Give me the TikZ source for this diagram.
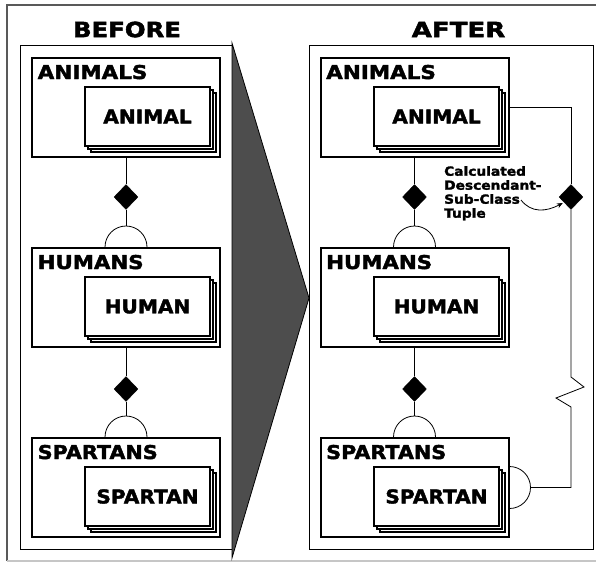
\documentclass[tikz,border=0pt]{standalone}
\usepackage{graphicx}
\usepackage{fontspec}
\setmainfont{DejaVu Sans}
\newfontfamily\heavy{DejaVu Sans Bold}[FakeBold=2]
\usetikzlibrary{shapes.geometric,shadows,arrows.meta}
\definecolor{wedgegray}{HTML}{4D4D4D}
\newcommand{\wtxt}[2][1.12]{\scalebox{#1}[1]{#2}}
\begin{document}
\begin{tikzpicture}[x=1pt,y=-1pt,
  classbox/.style={draw, line width=2pt, minimum width=188pt, minimum height=99pt, inner sep=0pt},
  instbox/.style={draw, line width=1.6pt, fill=white, minimum width=125pt, minimum height=59pt, inner sep=0pt,
    double copy shadow={shadow xshift=3pt, shadow yshift=-3pt},
    font=\fontsize{19}{21}\selectfont\heavy},
  classlbl/.style={anchor=base west, inner sep=0pt, font=\fontsize{19}{21}\selectfont\heavy},
  panel/.style={draw, line width=0.9pt, inner sep=0pt},
  rel/.style={draw, line width=0.8pt},
  dia/.style={diamond, fill=black, draw=black, minimum width=24pt, minimum height=25pt, inner sep=0pt},
  title/.style={font=\fontsize{21}{24}\selectfont\heavy, inner sep=0pt},
  note/.style={font=\fontsize{12.5}{14}\selectfont\heavy, inner sep=0pt, align=left, anchor=north west}
]
\useasboundingbox (0,0) rectangle (596,563);
% outer frame
\draw[gray!70!black, line width=1.2pt] (596,5) -- (7,5) -- (7,561);
\draw[gray!45, line width=1.2pt] (7,561) -- (596,561);

% panels
\node[panel, minimum width=212pt, minimum height=504pt] (before) at (126,297) {};
\node[panel, minimum width=284pt, minimum height=504pt] (after) at (451,297) {};
\filldraw[fill=wedgegray, draw=black, line width=0.8pt] (232,43) -- (309,298) -- (232,558) -- cycle;

% titles
\node[title] (tbefore) at (127,29.5) {\wtxt[1.16]{BEFORE}};
\node[title] (tafter) at (458.5,29.5) {\wtxt[1.24]{AFTER}};

% BEFORE panel
\node[classbox] (animalsB) at (126,107.5) {};
\node[classbox] (humansB) at (126,297.5) {};
\node[classbox] (spartansB) at (126,487.5) {};
\node[classlbl] (lanimalsB) at ([xshift=6.5pt,yshift=-22pt]animalsB.north west) {\wtxt[1.13]{ANIMALS}};
\node[classlbl] (lhumansB) at ([xshift=6.5pt,yshift=-22pt]humansB.north west) {\wtxt[1.12]{HUMANS}};
\node[classlbl] (lspartansB) at ([xshift=6.5pt,yshift=-22pt]spartansB.north west) {\wtxt[1.09]{SPARTANS}};
\node[instbox] (animalB) at (147.5,116.5) {\wtxt[1.06]{ANIMAL}};
\node[instbox] (humanB) at (147.5,306.5) {\wtxt[1.06]{HUMAN}};
\node[instbox] (spartanB) at (147.5,496.5) {\wtxt[1.06]{SPARTAN}};
\node[dia] (d1B) at (126,197) {};
\node[dia] (d2B) at (126,389) {};
\draw[rel] (animalsB.south) -- (d1B.north);
\draw[rel] (d1B.south) -- ([yshift=21pt]humansB.north);
\draw[rel] ([xshift=-21pt]humansB.north) arc[start angle=180, end angle=0, radius=21pt];
\draw[rel] (humansB.south) -- (d2B.north);
\draw[rel] (d2B.south) -- ([yshift=21pt]spartansB.north);
\draw[rel] ([xshift=-21pt]spartansB.north) arc[start angle=180, end angle=0, radius=21pt];

% AFTER panel
\node[classbox] (animalsA) at (414.5,107.5) {};
\node[classbox] (humansA) at (414.5,297.5) {};
\node[classbox] (spartansA) at (414.5,487.5) {};
\node[classlbl] (lanimalsA) at ([xshift=6.5pt,yshift=-22pt]animalsA.north west) {\wtxt[1.13]{ANIMALS}};
\node[classlbl] (lhumansA) at ([xshift=6.5pt,yshift=-22pt]humansA.north west) {\wtxt[1.12]{HUMANS}};
\node[classlbl] (lspartansA) at ([xshift=6.5pt,yshift=-22pt]spartansA.north west) {\wtxt[1.09]{SPARTANS}};
\node[instbox] (animalA) at (436.5,116.5) {\wtxt[1.06]{ANIMAL}};
\node[instbox] (humanA) at (436.5,306.5) {\wtxt[1.06]{HUMAN}};
\node[instbox] (spartanA) at (436.5,496.5) {\wtxt[1.06]{SPARTAN}};
\node[dia] (d1A) at (414.5,197) {};
\node[dia] (d2A) at (414.5,389) {};
\draw[rel] (animalsA.south) -- (d1A.north);
\draw[rel] (d1A.south) -- ([yshift=21pt]humansA.north);
\draw[rel] ([xshift=-21pt]humansA.north) arc[start angle=180, end angle=0, radius=21pt];
\draw[rel] (humansA.south) -- (d2A.north);
\draw[rel] (d2A.south) -- ([yshift=21pt]spartansA.north);
\draw[rel] ([xshift=-21pt]spartansA.north) arc[start angle=180, end angle=0, radius=21pt];

% calculated relationship
\node[dia] (dR) at (571,197) {};
\coordinate (z1) at (571,377);
\coordinate (z2) at (584,387);
\coordinate (z3) at (556,398);
\coordinate (z4) at (571,407);
\coordinate (sR) at ([xshift=21pt]spartansA.east);
\draw[rel] ([yshift=0.5pt]animalsA.east) -| (dR.north);
\draw[rel] (dR.south) -- (z1) -- (z2) -- (z3) -- (z4) |- (sR);
\draw[rel] ([yshift=21pt]spartansA.east) arc[start angle=90, end angle=-90, radius=21pt];

\node[note] (tuple) at (444,166) {\wtxt[1.1]{Calculated}\\\wtxt[1.1]{Descendant-}\\\wtxt[1.1]{Sub-Class}\\\wtxt[1.1]{Tuple}};
\coordinate (ts) at (521,200);
\coordinate (te) at ([xshift=4pt,yshift=-6pt]dR.west);
\draw[line width=0.8pt, -{Stealth[length=6pt,width=5pt]}] (ts) .. controls (531,213) and (546,212) .. (te);
\end{tikzpicture}
\end{document}
